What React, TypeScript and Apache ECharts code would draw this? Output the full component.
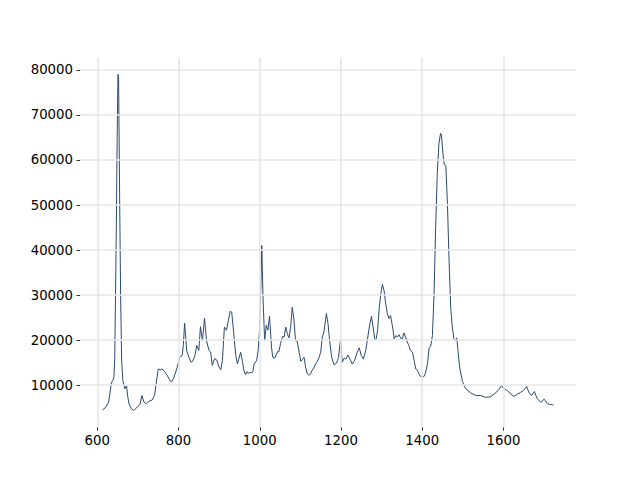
import React, { useEffect, useRef } from "react";
import * as echarts from "echarts";

const wavenumbers = [
  613, 620, 628, 635, 638, 641, 643, 645, 647, 649, 651, 652.5, 655, 657.5, 660, 663, 666, 668, 672, 675, 678, 684, 690,
  698, 705, 710, 715, 721, 727, 735, 741, 745, 750, 756, 760, 766, 772, 778, 783, 789, 797, 803, 809, 812, 815, 818, 820,
  826, 831, 835, 840, 845, 850, 854, 859, 864, 869, 875, 879, 883, 889, 894, 900, 904, 908, 913, 918, 923, 927, 931, 936,
  941, 945, 949, 953, 957, 961, 965, 969, 972, 976, 980, 983, 986, 992, 996, 1000, 1003, 1005, 1008, 1012, 1016, 1020,
  1024, 1029, 1032, 1037, 1041, 1044, 1047, 1051, 1056, 1060, 1064, 1068, 1072, 1076, 1080, 1084, 1088, 1092, 1097, 1101,
  1105, 1109, 1113, 1117, 1121, 1125, 1129, 1134, 1138, 1142, 1146, 1150, 1154, 1158, 1164, 1168, 1172, 1177, 1183, 1189,
  1194, 1199, 1203, 1208, 1212, 1217, 1222, 1228, 1234, 1240, 1245, 1250, 1255, 1261, 1266, 1271, 1275, 1279, 1283, 1286,
  1290, 1294, 1298, 1302, 1306, 1310, 1314, 1318, 1322, 1327, 1331, 1335, 1339, 1343, 1347, 1351, 1355, 1359, 1363, 1367,
  1371, 1376, 1380, 1384, 1388, 1392, 1396, 1400, 1404, 1408, 1413, 1417, 1421, 1425, 1429, 1433, 1437, 1441, 1445, 1447,
  1451, 1454, 1458, 1462, 1466, 1470, 1474, 1478, 1482, 1485, 1488, 1492, 1499, 1507, 1519, 1532, 1544, 1556, 1568, 1581,
  1588, 1595, 1601, 1610, 1618, 1626, 1634, 1642, 1649, 1657, 1663, 1669, 1676, 1683, 1692, 1700, 1708, 1716, 1723,
];

const intensities = [
  4530, 5000, 6200, 10600, 11000, 11800, 16000, 30000, 46000, 65000, 79000, 78500, 52600, 30000, 15500, 11000, 9900, 9200,
  9900, 7500, 5900, 4750, 4400, 5100, 5700, 7700, 6200, 5900, 6400, 6700, 7700, 10300, 13600, 13400, 13600, 13000, 12200,
  11200, 10700, 11800, 14000, 16200, 16600, 19000, 23800, 20500, 17700, 16100, 15100, 15300, 16400, 18800, 17700, 23000,
  19900, 24900, 19900, 17700, 17400, 14400, 15900, 15600, 14000, 13400, 15500, 22900, 22200, 24400, 26400, 26200, 21400,
  16600, 14700, 16000, 17300, 15500, 13300, 12300, 13000, 12600, 12900, 12700, 13000, 14700, 15400, 17700, 22900, 33000,
  41000, 29500, 19900, 23300, 22200, 25300, 18400, 16200, 16000, 16800, 17500, 17400, 19200, 20800, 20700, 22900, 21400,
  20500, 22900, 27300, 24700, 19900, 19800, 17300, 15300, 15700, 16200, 14000, 12500, 12200, 12500, 13300, 14000, 14800,
  15300, 16200, 17300, 20700, 21800, 25900, 23700, 19900, 16200, 14500, 14900, 16200, 20200, 15100, 16000, 15800, 16700,
  15800, 14700, 15600, 17300, 18300, 16600, 15800, 17700, 20700, 23600, 25300, 22900, 20300, 20000, 22100, 27000, 30300,
  32400, 31000, 28100, 25900, 24800, 25500, 22900, 20300, 21000, 20700, 21200, 20400, 20300, 21600, 20700, 19600, 18800,
  17700, 17300, 15500, 13600, 13300, 12500, 11900, 11800, 11900, 12700, 14800, 18300, 18700, 21000, 30000, 45000, 57000,
  63600, 65900, 65700, 61400, 59000, 58800, 50300, 37700, 27300, 22900, 20300, 19900, 20500, 17700, 14000, 10800, 9200,
  8300, 7700, 7700, 7300, 7400, 8300, 9000, 9900, 9200, 8800, 8000, 7500, 8000, 8400, 8800, 9700, 8300, 7700, 8600, 7000,
  6200, 6900, 5900, 5700, 5600,
];

const xTicks = [600, 800, 1000, 1200, 1400, 1600];
const yTicks = [10000, 20000, 30000, 40000, 50000, 60000, 70000, 80000];

export default function App() {
  const ref = useRef<HTMLDivElement>(null);
  useEffect(() => {
    if (!ref.current) return;
    const chart = echarts.init(ref.current, undefined, { renderer: "svg" });
    const data = wavenumbers.map((x, i) => [x, intensities[i]]);
    const xLo = Math.min(...wavenumbers);
    const xHi = Math.max(...wavenumbers);
    const yLo = Math.min(...intensities);
    const yHi = Math.max(...intensities);
    const xPad = (xHi - xLo) * 0.05;
    const yPad = (yHi - yLo) * 0.05;
    const font = { fontFamily: "DejaVu Sans", fontSize: 13.3, color: "#000" };
    const gridStyle = { type: "solid", color: "#e6e6e6", width: 1.6 };
    chart.setOption({
      animation: false,
      backgroundColor: "#fff",
      grid: { left: 80, right: 64, top: 57.6, bottom: 52.8, outerBoundsMode: "none" },
      xAxis: {
        type: "value",
        min: xLo - xPad,
        max: xHi + xPad,
        axisLine: { show: false },
        splitLine: { show: false },
        axisTick: { show: true, customValues: xTicks, length: 3.5, lineStyle: { color: "#000", width: 0.8 } },
        axisLabel: { customValues: xTicks, margin: 7, formatter: (v: number) => String(v), ...font },
      },
      yAxis: {
        type: "value",
        min: yLo - yPad,
        max: yHi + yPad,
        axisLine: { show: false },
        splitLine: { show: false },
        axisTick: { show: true, customValues: yTicks, length: 3.5, lineStyle: { color: "#000", width: 0.8 } },
        axisLabel: { customValues: yTicks, margin: 7, formatter: (v: number) => String(v), ...font },
      },
      series: [
        {
          type: "line",
          data: [],
          z: 1,
          silent: true,
          markLine: {
            silent: true,
            symbol: ["none", "none"],
            label: { show: false },
            emphasis: { disabled: true },
            lineStyle: gridStyle,
            data: [...xTicks.map((v) => ({ xAxis: v })), ...yTicks.map((v) => ({ yAxis: v }))],
          },
        },
        {
          type: "line",
          data,
          z: 2,
          showSymbol: false,
          symbol: "none",
          lineStyle: { color: "#2b4b70", width: 1 },
          itemStyle: { color: "#2b4b70" },
        },
      ],
    });
    return () => chart.dispose();
  }, []);
  return <div ref={ref} style={{ position: "fixed", left: 0, top: 0, width: 640, height: 480 }} />;
}
